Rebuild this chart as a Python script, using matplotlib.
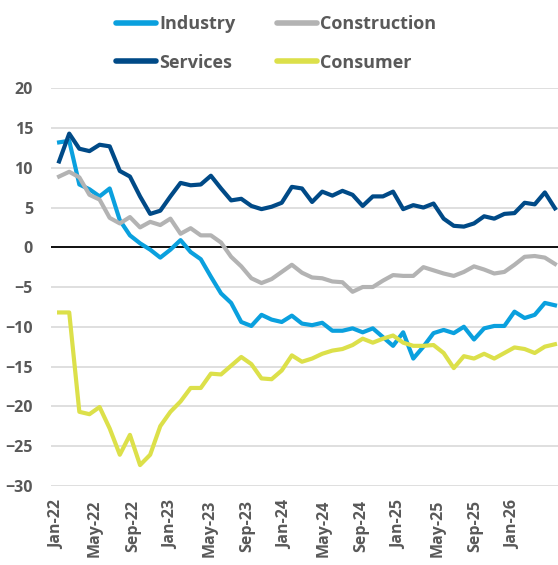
import numpy as np
import matplotlib
matplotlib.use("Agg")
import matplotlib.pyplot as plt

plt.rcParams['font.family'] = ['Open Sans', 'DejaVu Sans']

# monthly survey balances, Jan-22 onwards
industry = [13.2, 13.4, 7.9, 7.3, 6.4, 7.4, 3.4, 1.5, 0.5, -0.3,
            -1.3, -0.3, 0.9, -0.6, -1.5, -3.7, -5.8, -7.0, -9.4, -9.9,
            -8.5, -9.1, -9.4, -8.6, -9.6, -9.8, -9.5, -10.5, -10.5, -10.2,
            -10.7, -10.2, -11.3, -12.4, -10.7, -14.0, -12.5, -10.8, -10.4, -10.8,
            -10.0, -11.6, -10.2, -9.9, -9.9, -8.1, -8.9, -8.5, -7.0, -7.3]
services = [10.8, 14.3, 12.4, 12.1, 12.9, 12.7, 9.6, 8.9, 6.4, 4.2,
            4.6, 6.4, 8.1, 7.8, 7.9, 9.0, 7.4, 5.9, 6.1, 5.2,
            4.8, 5.1, 5.6, 7.6, 7.4, 5.7, 7.0, 6.5, 7.1, 6.6,
            5.2, 6.4, 6.4, 7.0, 4.8, 5.3, 5.0, 5.5, 3.6, 2.7,
            2.6, 3.0, 3.9, 3.6, 4.2, 4.3, 5.6, 5.4, 6.9, 4.9]
construction = [8.9, 9.5, 8.8, 6.6, 6.0, 3.7, 3.0, 3.8, 2.5, 3.2,
                2.8, 3.6, 1.7, 2.4, 1.5, 1.5, 0.6, -1.2, -2.4, -3.9,
                -4.5, -4.0, -3.1, -2.2, -3.2, -3.8, -3.9, -4.3, -4.4, -5.6,
                -5.0, -5.0, -4.2, -3.5, -3.6, -3.6, -2.5, -2.9, -3.3, -3.6,
                -3.1, -2.4, -2.8, -3.3, -3.1, -2.2, -1.2, -1.1, -1.3, -2.1]
consumer = [-8.2, -8.2, -20.7, -21.0, -20.1, -22.8, -26.1, -23.6, -27.4, -26.1,
            -22.5, -20.7, -19.4, -17.7, -17.7, -15.9, -16.0, -14.9, -13.8, -14.7,
            -16.5, -16.6, -15.5, -13.6, -14.4, -14.0, -13.4, -13.0, -12.8, -12.3,
            -11.5, -12.0, -11.5, -11.1, -12.0, -12.4, -12.4, -12.3, -13.3, -15.2,
            -13.7, -14.0, -13.4, -14.0, -13.3, -12.6, -12.8, -13.3, -12.5, -12.2]

tick_labels = ['Jan-22', 'May-22', 'Sep-22', 'Jan-23', 'May-23', 'Sep-23', 'Jan-24',
               'May-24', 'Sep-24', 'Jan-25', 'May-25', 'Sep-25', 'Jan-26']

grey_txt = '#595959'
x = np.arange(len(industry))

fig = plt.figure(figsize=(5.58, 5.65), dpi=100)
ax = fig.add_axes([0.0914, 0.1403, 0.9086, 0.7034])

l1, = ax.plot(x, industry, color='#0AA0DE', lw=3, label='Industry')
l3, = ax.plot(x, construction, color='#B3B3B3', lw=3, label='Construction')
l2, = ax.plot(x, services, color='#004A87', lw=3, label='Services')
l4, = ax.plot(x, consumer, color='#DCE04A', lw=3, label='Consumer')
ax.axhline(0, color='black', lw=1.3, zorder=1.5)

ax.set_ylim(-30, 20)
ax.set_xlim(-0.8, 49.3)
ax.set_yticks(range(-30, 21, 5))
ax.grid(axis='y', color='#D9D9D9', lw=1.2)
ax.set_axisbelow(True)
for s in ax.spines.values():
    s.set_visible(False)

# the labels in the source sit a little tighter than the monthly points
ax.set_xticks(np.linspace(-0.2, 44.9, 13))
ax.set_xticklabels(tick_labels, rotation=90)
ax.tick_params(axis='both', length=0, labelsize=11.5, labelcolor=grey_txt)
ax.tick_params(axis='x', pad=10)
ax.tick_params(axis='y', pad=13)
for t in ax.get_xticklabels() + ax.get_yticklabels():
    t.set_fontweight('bold')

leg = fig.legend(handles=[l1, l2, l3, l4], ncol=2, loc='upper left',
                 bbox_to_anchor=(0.186, 0.995), frameon=False,
                 prop={'weight': 'bold', 'size': 13}, borderpad=0.2,
                 handlelength=2.2, handletextpad=0.17, columnspacing=2.3,
                 labelspacing=1.12)
for t in leg.get_texts():
    t.set_color(grey_txt)
for h in leg.get_lines():
    h.set_linewidth(4)
    h.set_solid_capstyle('round')

fig.savefig('out.png', dpi=100)
